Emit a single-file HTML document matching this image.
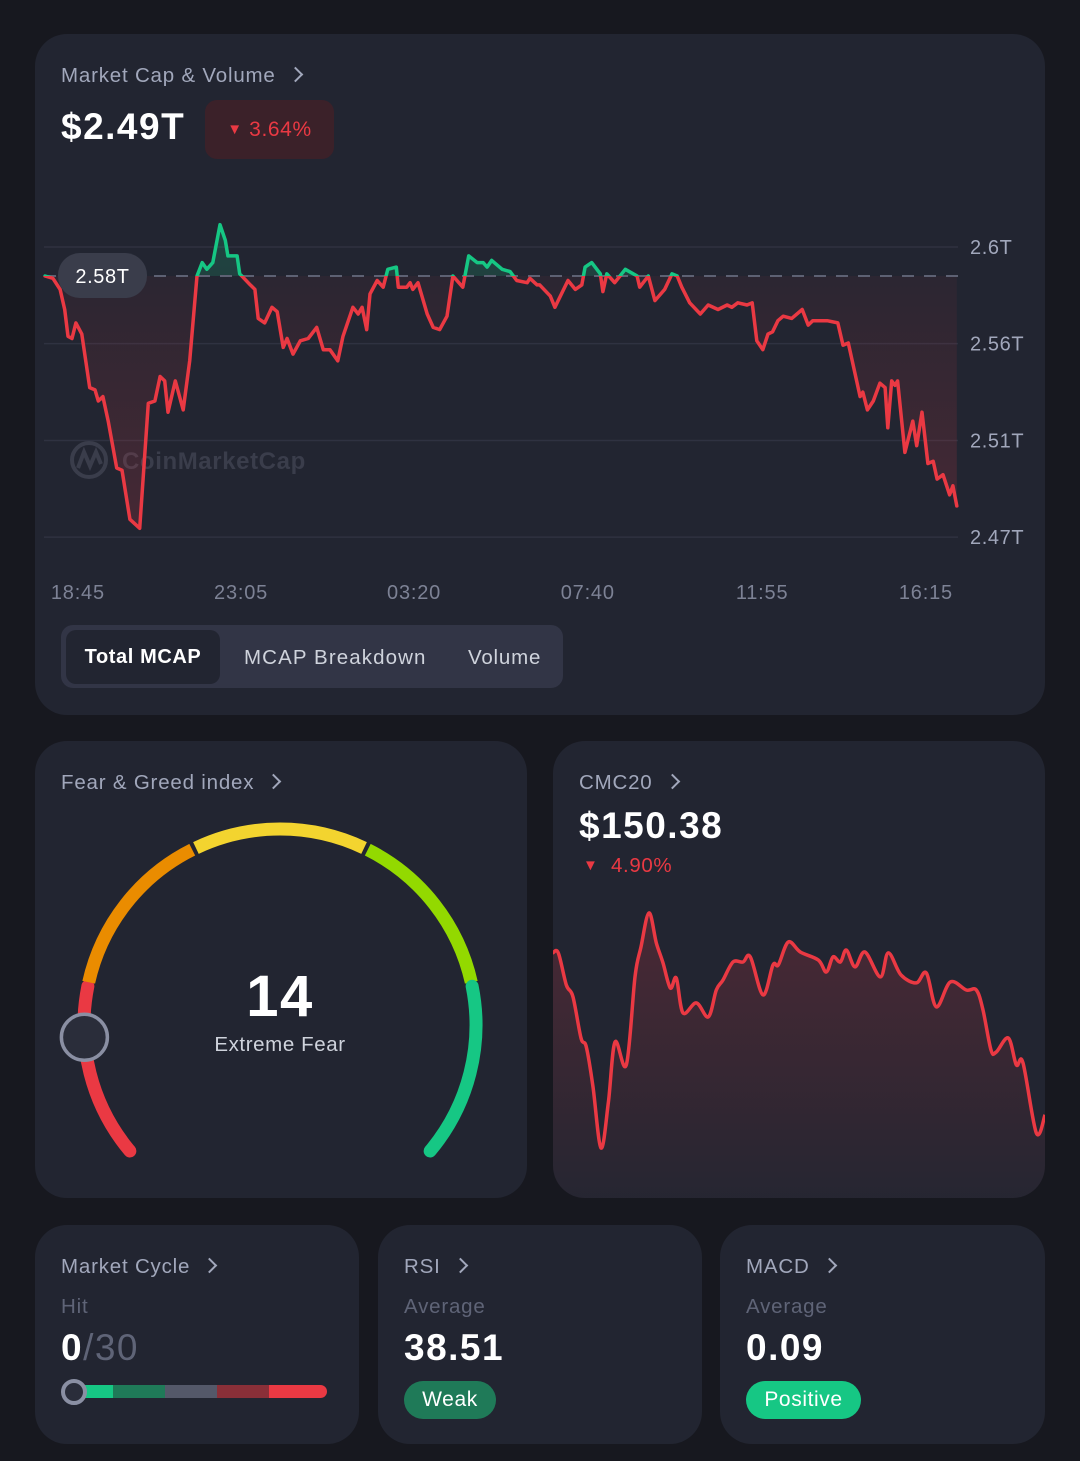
<!DOCTYPE html>
<html><head><meta charset="utf-8">
<style>
*{margin:0;padding:0;box-sizing:border-box}
body{width:1080px;height:1461px;background:#17181f;font-family:"Liberation Sans",Arial,sans-serif;position:relative;overflow:hidden;letter-spacing:0.6px}
.card{position:absolute;background:#222531;border-radius:32px}
.t{position:absolute;white-space:nowrap}
.lbl{color:#a1a7bb;font-size:20.5px;letter-spacing:0.8px}
.chev{display:inline-block;width:11px;height:11px;border-right:2px solid #a1a7bb;border-top:2px solid #a1a7bb;transform:rotate(45deg);margin-left:14px;position:relative;top:-2px}
.big{color:#fff;font-weight:bold;letter-spacing:1.5px}
.sub{color:#5f6477;font-size:20.5px;letter-spacing:0.8px}
</style></head><body>
<div class="card" style="left:35px;top:34px;width:1010px;height:681px"></div>
<div class="card" style="left:35px;top:741px;width:492px;height:457px"></div>
<div class="card" style="left:553px;top:741px;width:492px;height:457px;overflow:hidden"></div>
<div class="card" style="left:35px;top:1225px;width:324px;height:219px"></div>
<div class="card" style="left:378px;top:1225px;width:324px;height:219px"></div>
<div class="card" style="left:720px;top:1225px;width:325px;height:219px"></div>

<div class="t lbl" style="left:61px;top:64px">Market Cap &amp; Volume<span class="chev"></span></div>
<div class="t big" style="left:61px;top:106px;font-size:37px">$2.49T</div>
<div class="t" style="left:205px;top:100px;width:129px;height:59px;background:#3b2129;border-radius:12px;color:#ea3943;font-size:21px;line-height:59px;text-align:center"><span style="font-size:15px;position:relative;top:-2px">▼</span> 3.64%</div>

<svg id="main" width="1080" height="620" style="position:absolute;left:0;top:0"></svg>

<div class="t" style="left:61px;top:625px;width:502px;height:63px;background:#323546;border-radius:12px"></div>
<div class="t" style="left:66px;top:630px;width:154px;height:54px;background:#222531;border-radius:10px;color:#fff;font-weight:bold;font-size:20px;line-height:54px;text-align:center">Total MCAP</div>
<div class="t" style="left:244px;top:631px;height:54px;color:#cfd3dc;font-size:20.5px;letter-spacing:1.1px;line-height:54px">MCAP Breakdown</div>
<div class="t" style="left:468px;top:631px;height:54px;color:#cfd3dc;font-size:20.5px;letter-spacing:0.8px;line-height:54px">Volume</div>

<div class="t lbl" style="left:61px;top:771px">Fear &amp; Greed index<span class="chev"></span></div>
<svg id="gauge" width="527" height="1198" style="position:absolute;left:0;top:0"></svg>
<div class="t big" style="left:180px;width:200px;text-align:center;top:963px;font-size:58px">14</div>
<div class="t" style="left:180px;width:200px;text-align:center;top:1033px;font-size:20.5px;color:#cfd3dc">Extreme Fear</div>

<div class="t lbl" style="left:579px;top:771px">CMC20<span class="chev"></span></div>
<div class="t big" style="left:579px;top:805px;font-size:37px">$150.38</div>
<div class="t" style="left:583px;top:854px;font-size:20.5px;color:#ea3943"><span style="font-size:15px;position:relative;top:-2px">▼</span>&nbsp; 4.90%</div>
<svg id="cmc" width="492" height="457" style="position:absolute;left:553px;top:741px;border-radius:32px"></svg>

<div class="t lbl" style="left:61px;top:1255px">Market Cycle<span class="chev"></span></div>
<div class="t sub" style="left:61px;top:1295px">Hit</div>
<div class="t" style="left:61px;top:1327px;font-size:37px;color:#5f6477;letter-spacing:1.5px"><b style="color:#fff">0</b>/30</div>
<div class="t" style="left:75px;top:1385px;width:252px;height:13px;border-radius:7px;overflow:hidden;display:flex">
<div style="width:38px;background:#16c784"></div><div style="width:52px;background:#1f7a58"></div><div style="width:52px;background:#545869"></div><div style="width:52px;background:#8a2f38"></div><div style="flex:1;background:#ea3943"></div></div>
<div class="t" style="left:61px;top:1379px;width:26px;height:26px;border-radius:50%;border:4px solid #8a8fa3;background:#2a2d3a"></div>

<div class="t lbl" style="left:404px;top:1255px">RSI<span class="chev"></span></div>
<div class="t sub" style="left:404px;top:1295px">Average</div>
<div class="t big" style="left:404px;top:1327px;font-size:37px">38.51</div>
<div class="t" style="left:404px;top:1381px;width:92px;height:38px;border-radius:19px;background:#1f7a58;color:#fff;font-size:21px;line-height:38px;text-align:center">Weak</div>

<div class="t lbl" style="left:746px;top:1255px">MACD<span class="chev"></span></div>
<div class="t sub" style="left:746px;top:1295px">Average</div>
<div class="t big" style="left:746px;top:1327px;font-size:37px">0.09</div>
<div class="t" style="left:746px;top:1381px;width:115px;height:38px;border-radius:19px;background:#16c784;color:#fff;font-size:21px;line-height:38px;text-align:center">Positive</div>

<script>
// ---- Market cap data (minutes since 17:55, value in $B) ----
const mcMinutes=[0,12,23,30,35,41,47,56,68,76,81,88,96,109,117,129,144,157,167,175,182,187,198,210,220,231,239,246,255,266,274,278,292,296,312,319,324,334,345,353,362,368,377,388,400,413,423,433,445,453,468,476,482,489,494,505,514,521,534,537,550,555,559,567,581,590,600,611,620,635,644,657,666,672,679,695,707,717,733,737,748,752,768,775,795,806,816,821,831,844,848,854,866,882,900,904,917,927,942,953,961,968,980,996,1008,1023,1037,1044,1053,1067,1075,1082,1091,1099,1106,1114,1122,1135,1151,1160,1167,1189,1205,1213,1221,1239,1243,1250,1259,1269,1277,1281,1287,1292,1296,1307,1319,1325,1333,1342,1350,1356,1365,1375,1380,1386];
const mcValues=[2587,2586,2581,2572,2560,2559,2566,2561,2537,2536,2531,2533,2522,2501,2500,2478,2474,2530,2531,2542,2540,2526,2540,2527,2549,2587,2593,2590,2593,2610,2603,2596,2596,2588,2583,2581,2568,2566,2573,2571,2555,2559,2552,2558,2559,2564,2554,2554,2549,2560,2573,2570,2573,2563,2579,2585,2582,2590,2591,2582,2582,2584,2581,2584,2570,2564,2563,2569,2587,2582,2596,2593,2593,2591,2594,2590,2589,2585,2584,2586,2583,2583,2578,2573,2585,2581,2583,2591,2593,2588,2580,2588,2584,2590,2587,2582,2587,2576,2581,2588,2587,2582,2575,2570,2574,2572,2574,2573,2575,2574,2575,2558,2554,2561,2562,2567,2569,2568,2572,2565,2567,2567,2566,2556,2557,2533,2535,2527,2531,2539,2537,2519,2540,2538,2540,2508,2522,2511,2526,2503,2504,2496,2498,2489,2493,2484];
const mcBaseline=2587;
const mcBaselineLabel="2.58T";
const yTickValues=[2600,2556.7,2513.3,2470];
const yTickLabels=["2.6T","2.56T","2.51T","2.47T"];
const xTickLabels=["18:45","23:05","03:20","07:40","11:55","16:15"];
const xTickMinutes=[50,298,561,825,1090,1339];

// ---- CMC20 data ----
const cmcMinutes=[0,8,20,30,42,50,60,72,83,93,110,123,132,144,155,165,176,185,195,215,233,245,255,270,285,296,315,330,338,353,371,398,410,420,431,440,453,468,491,503,522,545,560,575,596,620,635,645,657,665,683,695,705,725,738];
const cmcValues=[156.90,156.90,155.78,155.36,153.92,153.61,152.21,150.07,151.65,153.78,152.98,156.06,157.11,158.30,157.25,156.55,155.67,156.02,154.80,155.15,154.66,155.60,155.95,156.58,156.58,156.76,155.43,156.48,156.48,157.28,156.93,156.65,156.23,156.76,156.58,157.00,156.41,156.93,156.06,156.90,156.13,155.85,156.20,155.01,155.88,155.60,155.60,154.90,153.50,153.43,153.92,152.98,153.05,150.60,151.23];

// ---- Fear & greed ----
const fgValue=14;
const fgColors=["#ea3943","#ea8c00","#f3d42f","#93d900","#16c784"];

const NS="http://www.w3.org/2000/svg";
function mk(parent,tag,attrs){const e=document.createElementNS(NS,tag);for(const k in attrs)e.setAttribute(k,attrs[k]);parent.appendChild(e);return e;}

// main chart
(function(){
const svg=document.getElementById('main');
const X=m=>45+m/1.52;
const Y=v=>247+(2600-v)/0.448;
const defs=mk(svg,'defs',{});
const gr=mk(defs,'linearGradient',{id:'rg',x1:0,y1:0,x2:0,y2:1});
mk(gr,'stop',{offset:'0','stop-color':'#ea3943','stop-opacity':'0.02'});
mk(gr,'stop',{offset:'1','stop-color':'#ea3943','stop-opacity':'0.18'});
const gg=mk(defs,'linearGradient',{id:'gg',x1:0,y1:1,x2:0,y2:0});
mk(gg,'stop',{offset:'0','stop-color':'#16c784','stop-opacity':'0.02'});
mk(gg,'stop',{offset:'1','stop-color':'#16c784','stop-opacity':'0.2'});
const by=Y(mcBaseline);
const cb=mk(defs,'clipPath',{id:'below'});mk(cb,'rect',{x:0,y:by,width:1080,height:400});
const ca=mk(defs,'clipPath',{id:'above'});mk(ca,'rect',{x:0,y:0,width:1080,height:by});
yTickValues.forEach((v,i)=>{
 const l=mk(svg,'line',{x1:44,x2:958,y1:Y(v),y2:Y(v),stroke:'#2f3241','stroke-width':1.5});
 
 
 const t=mk(svg,'text',{x:970,y:Y(v)+7,fill:'#a1a7bb','font-size':20,'font-family':'Liberation Sans, sans-serif'});
 t.textContent=yTickLabels[i];
 
 
});
xTickLabels.forEach((s,i)=>{
 const t=mk(svg,'text',{x:X(xTickMinutes[i]),y:599,fill:'#7d8295','font-size':20,'text-anchor':'middle','letter-spacing':'0.8','font-family':'Liberation Sans, sans-serif'});
 t.textContent=s;
 
 
});
// watermark
const wm=mk(svg,'g',{opacity:1});


mk(wm,'circle',{cx:89,cy:460,r:17,fill:'none',stroke:'#3a3d4b','stroke-width':4});
mk(wm,'path',{d:'M78 468 L84 452 L90 466 L96 452 L101 464',fill:'none',stroke:'#3a3d4b','stroke-width':4});
const wt=mk(wm,'text',{x:122,y:469,fill:'#3a3d4b','font-size':24,'font-weight':'bold','font-family':'Liberation Sans, sans-serif'});wt.textContent='CoinMarketCap';
let d='';mcMinutes.forEach((m,i)=>{d+=(i?'L':'M')+X(m).toFixed(1)+' '+Y(mcValues[i]).toFixed(1);});
const last=mcMinutes.length-1;
const area=d+'L'+X(mcMinutes[last]).toFixed(1)+' '+by+'L'+X(mcMinutes[0])+' '+by+'Z';
const a1=mk(svg,'path',{d:area,fill:'url(#rg)','clip-path':'url(#below)'});


const a2=mk(svg,'path',{d:area,fill:'url(#gg)','clip-path':'url(#above)'});


const bl=mk(svg,'line',{x1:44,x2:958,y1:by,y2:by,stroke:'#5d6173','stroke-width':2,'stroke-dasharray':'12 10'});


const l1=mk(svg,'path',{d:d,fill:'none',stroke:'#ea3943','stroke-width':3.5,'stroke-linejoin':'round','stroke-linecap':'round','clip-path':'url(#below)'});


const l2=mk(svg,'path',{d:d,fill:'none',stroke:'#16c784','stroke-width':3.5,'stroke-linejoin':'round','stroke-linecap':'round','clip-path':'url(#above)'});


const pg=mk(svg,'g',{});


mk(pg,'rect',{x:58,y:by-23,width:89,height:45,rx:22,fill:'#3a3d4b'});
const pt=mk(pg,'text',{x:102.5,y:by+7,fill:'#fff','font-size':20,'text-anchor':'middle','font-family':'Liberation Sans, sans-serif'});pt.textContent=mcBaselineLabel;
})();

// gauge
(function(){
const svg=document.getElementById('gauge');
const cx=280,cy=1025,r=196;
const P=a=>{const t=a*Math.PI/180;return [cx+r*Math.sin(t),cy-r*Math.cos(t)];};
const start=-130,sweep=260,n=fgColors.length,seg=sweep/n;
fgColors.forEach((c,i)=>{
 const a0=start+i*seg+(i?0.6:0),a1=start+(i+1)*seg-(i<n-1?0.6:0);
 const p0=P(a0),p1=P(a1);
 const e=mk(svg,'path',{d:`M${p0[0]} ${p0[1]} A${r} ${r} 0 0 1 ${p1[0]} ${p1[1]}`,fill:'none',stroke:c,'stroke-width':13,'stroke-linecap':(i==0||i==n-1)?'round':'butt'});
 
 
});
const k=P(start+sweep*fgValue/100);
const kn=mk(svg,'circle',{cx:k[0],cy:k[1],r:23,fill:'#2a2d3a',stroke:'#8a8fa3','stroke-width':3.5});


})();

// cmc20
(function(){
const svg=document.getElementById('cmc');
const X=m=>m/1.5;
const Y=v=>409-(v-150)/0.035;
const defs=mk(svg,'defs',{});
const gr=mk(defs,'linearGradient',{id:'cg',x1:0,y1:0,x2:0,y2:1});
mk(gr,'stop',{offset:'0','stop-color':'#ea3943','stop-opacity':'0.2'});
mk(gr,'stop',{offset:'1','stop-color':'#ea3943','stop-opacity':'0.02'});
const pts=cmcMinutes.map((m,i)=>[X(m),Y(cmcValues[i])]);
let d='M'+pts[0][0]+' '+pts[0][1];
for(let i=0;i<pts.length-1;i++){
 const p0=pts[Math.max(0,i-1)],p1=pts[i],p2=pts[i+1],p3=pts[Math.min(pts.length-1,i+2)];
 const c1=[p1[0]+(p2[0]-p0[0])/6,p1[1]+(p2[1]-p0[1])/6],c2=[p2[0]-(p3[0]-p1[0])/6,p2[1]-(p3[1]-p1[1])/6];
 d+=`C${c1[0].toFixed(1)} ${c1[1].toFixed(1)} ${c2[0].toFixed(1)} ${c2[1].toFixed(1)} ${p2[0].toFixed(1)} ${p2[1].toFixed(1)}`;
}
const lx=pts[pts.length-1][0];
const ar=mk(svg,'path',{d:d+`L${lx} 457L0 457Z`,fill:'url(#cg)'});


const ln=mk(svg,'path',{d:d,fill:'none',stroke:'#ea3943','stroke-width':3.5,'stroke-linejoin':'round'});


})();
</script>
</body></html>
